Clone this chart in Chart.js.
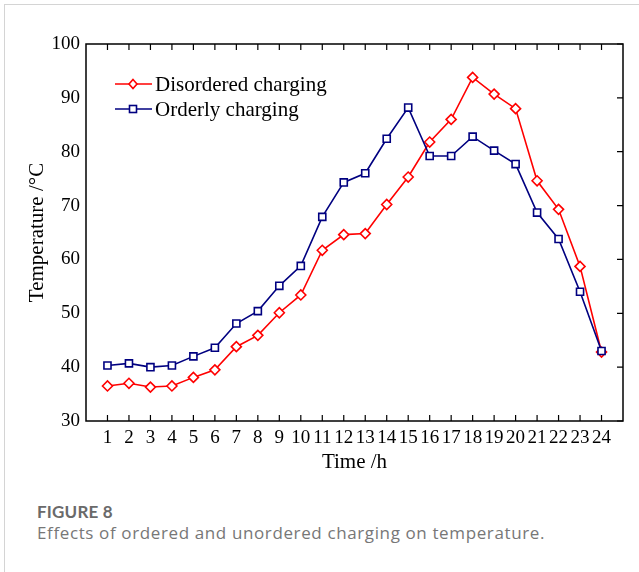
<!DOCTYPE html>
<html>
<head>
<meta charset="utf-8">
<script src="https://cdn.jsdelivr.net/npm/chart.js@4.4.0/dist/chart.umd.min.js"></script>
<style>
  html, body { margin: 0; padding: 0; background: #fff; width: 639px; height: 572px; overflow: hidden; }
  #frame { position: absolute; left: 4px; top: 4px; width: 700px; height: 700px; border-left: 1px solid #d4d4d4; border-top: 1px solid #d4d4d4; }
  #wrap { position: absolute; left: 0; top: 0; width: 639px; height: 480px; }
  .leg { position: absolute; left: 115px; height: 24px; display: flex; align-items: center; font-family: "Liberation Serif", serif; font-size: 21px; color: #000; white-space: nowrap; }
  .leg svg { margin-right: 3px; }
  #cap1 { position: absolute; left: 37px; top: 501px; font-family: "Lato", sans-serif; font-weight: 700; font-size: 17px; color: #6a6a6a; letter-spacing: 0.2px; }
  #cap2 { position: absolute; left: 37px; top: 521px; font-family: "Open Sans", sans-serif; font-size: 17px; color: #777; letter-spacing: 0.62px; }
</style>
</head>
<body>
<div id="frame"></div>
<div id="wrap"><canvas id="c"></canvas></div>
<div class="leg" id="leg1" style="top:72px;"></div>
<div class="leg" id="leg2" style="top:97px;"></div>
<div id="cap1">FIGURE 8</div>
<div id="cap2">Effects of ordered and unordered charging on temperature.</div>
<script>
const hours = [1,2,3,4,5,6,7,8,9,10,11,12,13,14,15,16,17,18,19,20,21,22,23,24];
const disordered = [36.5,37.0,36.3,36.5,38.1,39.5,43.8,45.9,50.1,53.4,61.7,64.6,64.8,70.2,75.3,81.8,86.0,93.8,90.7,88.0,74.6,69.3,58.7,42.8];
const orderly = [40.3,40.7,40.0,40.3,42.0,43.6,48.1,50.4,55.1,58.8,67.9,74.3,76.0,82.4,88.2,79.2,79.2,82.8,80.2,77.7,68.7,63.8,54.0,43.0];
const seriesNames = ["Disordered charging", "Orderly charging"];
const yTicks = [30,40,50,60,70,80,90,100];
const RED = "#ff0000", BLUE = "#000080";

// HTML legend
function legendHTML(color, marker, name) {
  const m = marker === "diamond"
    ? `<polygon points="18,2.5 22,7 18,11.5 14,7" fill="#fff" stroke="${color}" stroke-width="1.6"/>`
    : `<rect x="14.5" y="3.5" width="7" height="7" fill="#fff" stroke="${color}" stroke-width="1.6"/>`;
  return `<svg width="37" height="14"><line x1="0" y1="7" x2="37" y2="7" stroke="${color}" stroke-width="1.6"/>${m}</svg><span>${name}</span>`;
}
document.getElementById("leg1").innerHTML = legendHTML(RED, "diamond", seriesNames[0]);
document.getElementById("leg2").innerHTML = legendHTML(BLUE, "square", seriesNames[1]);

const frameTicks = {
  id: "frameTicks",
  afterDraw(chart) {
    const {ctx, chartArea: a, scales} = chart;
    ctx.save();
    ctx.strokeStyle = "#000";
    ctx.lineWidth = 1.5;
    ctx.strokeRect(a.left, a.top, a.right - a.left, a.bottom - a.top);
    ctx.lineWidth = 1.2;
    const tl = 6;
    ctx.beginPath();
    hours.forEach(h => {
      const x = scales.x.getPixelForValue(h);
      ctx.moveTo(x, a.bottom); ctx.lineTo(x, a.bottom - tl);
      ctx.moveTo(x, a.top); ctx.lineTo(x, a.top + tl);
    });
    yTicks.forEach(v => {
      const y = scales.y.getPixelForValue(v);
      ctx.moveTo(a.right, y); ctx.lineTo(a.right - tl, y);
    });
    ctx.stroke();
    ctx.restore();
  }
};

const tickFont = { family: "Liberation Serif", size: 19 };
const titleFont = { family: "Liberation Serif", size: 21 };

new Chart(document.getElementById("c"), {
  type: "line",
  data: {
    datasets: [
      {
        label: seriesNames[0],
        data: hours.map((h, i) => ({ x: h, y: disordered[i] })),
        borderColor: RED, backgroundColor: "#fff",
        pointBackgroundColor: "#fff", pointBorderColor: RED,
        pointStyle: "rectRot", pointRadius: 5, pointBorderWidth: 1.6,
        borderWidth: 1.6, tension: 0, order: 2
      },
      {
        label: seriesNames[1],
        data: hours.map((h, i) => ({ x: h, y: orderly[i] })),
        borderColor: BLUE, backgroundColor: "#fff",
        pointBackgroundColor: "#fff", pointBorderColor: BLUE,
        pointStyle: "rect", pointRadius: 5, pointBorderWidth: 1.6,
        borderWidth: 1.6, tension: 0, order: 1
      }
    ]
  },
  options: {
    responsive: true,
    maintainAspectRatio: false,
    animation: false,
    layout: { padding: { top: 44, right: 16, left: 0, bottom: 0 } },
    plugins: { legend: { display: false }, tooltip: { enabled: false } },
    scales: {
      x: {
        type: "linear", min: 0, max: 25,
        afterFit(s) { s.height = 59; },
        afterBuildTicks(s) { s.ticks = hours.map(v => ({ value: v })); },
        grid: { display: false, drawTicks: false },
        border: { display: false },
        ticks: { autoSkip: false, maxRotation: 0, padding: 6, color: "#000", font: tickFont,
                 callback: v => String(v) },
        title: { display: true, text: "Time /h", color: "#000", font: titleFont, padding: { top: 0, bottom: 5 } }
      },
      y: {
        type: "linear", min: 30, max: 100,
        afterFit(s) { s.width = 86; },
        afterBuildTicks(s) { s.ticks = yTicks.map(v => ({ value: v })); },
        grid: { display: false, drawTicks: false },
        border: { display: false },
        ticks: { padding: 6, color: "#000", font: tickFont },
        title: { display: true, text: "Temperature /°C", color: "#000", font: titleFont, padding: { top: 25, bottom: 0 } }
      }
    }
  },
  plugins: [frameTicks]
});
</script>
</body>
</html>
